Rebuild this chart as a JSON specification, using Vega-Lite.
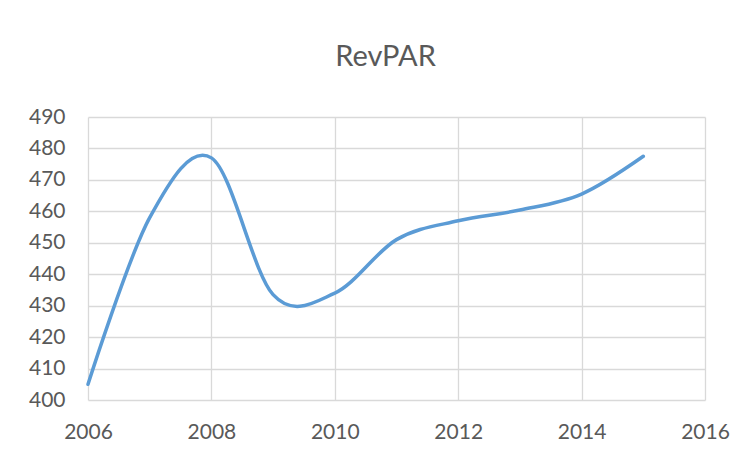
{
  "$schema": "https://vega.github.io/schema/vega-lite/v6.json",
  "width": 617,
  "height": 283,
  "autosize": "none",
  "padding": {"left": 88, "top": 117, "right": 47, "bottom": 57},
  "background": "white",
  "title": {
    "text": "RevPAR",
    "font": "Lato",
    "fontSize": 29,
    "fontWeight": "normal",
    "color": "#595959",
    "anchor": "middle",
    "baseline": "alphabetic",
    "offset": 11,
    "dx": -11
  },
  "config": {
    "view": {"stroke": null},
    "axis": {
      "labelFont": "Lato",
      "labelFontSize": 21,
      "labelColor": "#595959",
      "gridColor": "#d9d9d9",
      "gridWidth": 1.3,
      "ticks": false,
      "domain": false,
      "title": null
    }
  },
  "data": {
    "values": [
      {"year": 2006, "revpar": 405},
      {"year": 2007, "revpar": 458},
      {"year": 2008, "revpar": 477},
      {"year": 2009, "revpar": 433.5},
      {"year": 2010, "revpar": 434},
      {"year": 2011, "revpar": 451},
      {"year": 2012, "revpar": 457},
      {"year": 2013, "revpar": 460.4},
      {"year": 2014, "revpar": 465.5},
      {"year": 2015, "revpar": 477.5}
    ]
  },
  "mark": {"type": "line", "interpolate": "cardinal", "tension": 0, "color": "#5b9bd5", "strokeWidth": 3.5, "strokeCap": "round"},
  "encoding": {
    "x": {
      "field": "year",
      "type": "quantitative",
      "scale": {"domain": [2006, 2016], "nice": false, "zero": false},
      "axis": {"values": [2006, 2008, 2010, 2012, 2014, 2016], "format": "d", "labelPadding": 21, "labelFlush": false}
    },
    "y": {
      "field": "revpar",
      "type": "quantitative",
      "scale": {"domain": [400, 490], "nice": false, "zero": false},
      "axis": {"values": [400, 410, 420, 430, 440, 450, 460, 470, 480, 490], "labelPadding": 23}
    }
  }
}
